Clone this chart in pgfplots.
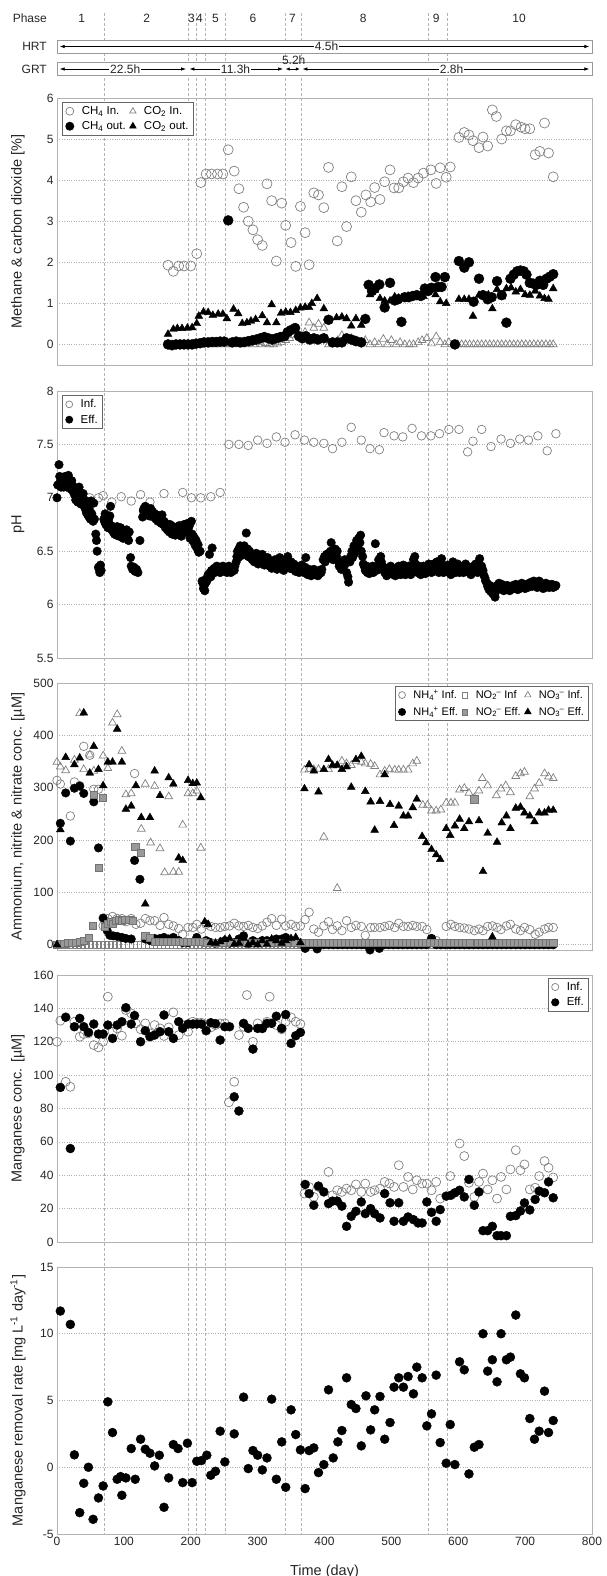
\documentclass[border=0pt]{standalone}
\usepackage{fontspec}
\setmainfont{Liberation Sans}
\usepackage{pgfplots}
\pgfplotsset{compat=1.18}
\usetikzlibrary{arrows.meta}

\newcommand\supsub[2]{\textsubscript{#2}\kern-0.5pt\textsuperscript{#1}}

\tikzset{
  arr/.style={{Latex[length=5pt,width=3.5pt]}-{Latex[length=5pt,width=3.5pt]}, line width=0.7pt},
  hd/.style={font=\fontsize{12}{14}\selectfont, text=black!85},
}

\pgfplotsset{
  panel/.style={
    scale only axis, width=535pt, height=267pt,
    xmin=0, xmax=800, xtick=\empty,
    axis line style={black!30, line width=0.8pt},
    major tick length=0pt,
    ymajorgrids, grid style={dotted, black!30, line width=0.6pt},
    tick label style={font=\fontsize{12}{14}\selectfont, text=black!85},
    /pgf/number format/assume math mode=true,
    ylabel style={font=\fontsize{14.5}{16}\selectfont, text=black!85,
      at={(axis description cs:-0.073,0.5)}, anchor=center},
    legend style={font=\fontsize{11.5}{13}\selectfont, draw=black!60,
      line width=0.9pt, inner xsep=3pt, inner ysep=2pt, fill=white, row sep=1.5pt,
      /tikz/every even column/.append style={column sep=2pt},
      /tikz/every odd column/.append style={column sep=6pt}},
    legend cell align=left,
    legend image post style={scale=0.8},
  },
  oc/.style={only marks, mark=o, mark size=#1, mark options={draw=black!50, line width=0.7pt}},
  oc/.default=4.5pt,
  ot/.style={only marks, mark=triangle, mark size=#1, mark options={draw=black!50, line width=0.7pt}},
  ot/.default=4.8pt,
  os/.style={only marks, mark=square, mark size=#1, mark options={draw=black!50, line width=0.6pt, fill=white}},
  os/.default=3.6pt,
  gs/.style={only marks, mark=square*, mark size=#1, mark options={draw=black!55, fill=black!40, line width=0.6pt}},
  gs/.default=3.6pt,
  fc/.style={only marks, mark=*, mark size=#1, mark options={draw=black, fill=black}},
  fc/.default=4.5pt,
  ft/.style={only marks, mark=triangle*, mark size=#1, mark options={draw=black, fill=black}},
  ft/.default=4.8pt,
}

\begin{document}
\begin{tikzpicture}
\useasboundingbox (0,0) rectangle (606pt,1576pt);

% ---- header and phase lines ----
\begin{axis}[at={(57pt,42pt)}, anchor=south west, scale only axis,
  width=535pt, height=1524pt, xmin=0, xmax=800, ymin=10, ymax=1534,
  y dir=reverse, hide axis, clip=false]
  \pgfplotsinvokeforeach{71,196,208,221,251,341,365,555,583}{
    \draw[densely dashed, black!30, line width=0.5pt] (axis cs:#1,13) -- (axis cs:#1,1534);
  }
  \draw[black!40, fill=white, line width=0.7pt] (axis cs:0,40) rectangle (axis cs:800,53);
  \draw[black!40, fill=white, line width=0.7pt] (axis cs:0,62.5) rectangle (axis cs:800,75.5);
  \node[hd, anchor=east] at (axis cs:-10,18) {Phase};
  \node[hd, anchor=east] at (axis cs:-10,46.5) {HRT};
  \node[hd, anchor=east] at (axis cs:-10,69) {GRT};
  \node[hd] at (axis cs:37,18) {1};
  \node[hd] at (axis cs:134,18) {2};
  \node[hd] at (axis cs:201,18) {3};
  \node[hd] at (axis cs:213,18) {4};
  \node[hd] at (axis cs:237,18) {5};
  \node[hd] at (axis cs:293,18) {6};
  \node[hd] at (axis cs:352,18) {7};
  \node[hd] at (axis cs:458,18) {8};
  \node[hd] at (axis cs:567,18) {9};
  \node[hd] at (axis cs:691,18) {10};
  \draw[arr] (axis cs:4,46.5) -- (axis cs:796,46.5);
  \node[hd, fill=white, inner sep=1pt] at (axis cs:403,46.5) {4.5h};
  \draw[arr] (axis cs:4,69) -- (axis cs:193,69);
  \node[hd, fill=white, inner sep=1pt] at (axis cs:102,69) {22.5h};
  \draw[arr] (axis cs:198,69) -- (axis cs:338,69);
  \node[hd, fill=white, inner sep=1pt] at (axis cs:267,69) {11.3h};
  \draw[{Latex[length=4pt,width=3.5pt]}-{Latex[length=4pt,width=3.5pt]}, line width=0.7pt]
    (axis cs:342,69) -- (axis cs:363,69);
  \node[hd, inner sep=1pt] at (axis cs:354,60) {5.2h};
  \draw[arr] (axis cs:367,69) -- (axis cs:796,69);
  \node[hd, fill=white, inner sep=1pt] at (axis cs:590,69) {2.8h};
\end{axis}

% ---- panel 1: methane and CO2 ----
\begin{axis}[panel, at={(57pt,1211pt)}, anchor=south west,
  ymin=-0.5, ymax=6, ytick={0,1,...,6},
  ylabel={Methane \&  carbon dioxide [\%]},
  legend columns=2,
  legend style={at={(axis description cs:0.01,0.985)}, anchor=north west}]
\addplot[oc=5pt] coordinates {(166,1.93)(174,1.78)(182,1.91)(190,1.91)(200,1.91)(209,2.21)(215,3.94)(223,4.15)(231,4.15)(240,4.15)(248,4.15)(256,4.74)(265,4.22)(272,3.79)(279,3.34)(286,3.00)(293,2.79)(300,2.55)(307,2.41)(314,3.91)(321,3.50)(328,2.03)(336,3.44)(342,2.90)(350,2.48)(357,1.90)(364,3.36)(371,2.72)(377,1.94)(384,3.69)(391,3.64)(399,3.33)(406,4.31)(419,2.52)(426,3.84)(433,2.87)(440,4.08)(447,3.50)(455,3.22)(462,3.64)(469,3.47)(475,3.82)(483,3.53)(490,3.96)(498,4.25)(504,3.81)(511,3.81)(518,3.96)(525,4.05)(533,3.94)(540,4.05)(548,4.17)(559,4.25)(567,3.92)(573,4.30)(582,4.07)(588,4.32)(601,5.04)(609,5.16)(616,5.10)(622,4.96)(631,4.79)(637,5.05)(644,4.83)(651,5.71)(657,5.55)(665,5.00)(672,5.20)(678,5.20)(686,5.35)(694,5.29)(700,5.25)(707,5.25)(715,4.62)(722,4.70)(729,5.39)(735,4.66)(742,4.08)};
\addlegendentry{CH\textsubscript{4} In.}
\addplot[ot=4.5pt] coordinates {(166,0)(172,0)(178,0)(184,0)(190,0)(196,0)(202,0)(209,0)(215,0)(222,0)(228,0)(234,0)(240,0)(246,0)(252,0)(258,0)(264,0.02)(270,0)(276,0)(282,0)(288,0.02)(294,0)(300,0.05)(306,0)(312,0.03)(318,0)(324,0)(330,0.02)(336,0.05)(342,0.1)(348,0.15)(354,0.22)(360,0.25)(366,0.2)(371,0.3)(377,0.53)(384,0.4)(391,0.5)(399,0.4)(406,0)(413,0.05)(420,0.1)(426,0.22)(433,0.1)(440,0.15)(447,0.1)(455,0.05)(461,0.1)(468,0)(475,0.05)(481,0)(488,0.13)(494,0)(500,0.1)(507,0)(513,0.05)(520,0)(527,0)(533,0)(540,0.05)(546,0.1)(553,0.15)(560,0.02)(567,0.19)(573,0.05)(580,0)(586,0.05)(593,0)(599,0)(605,0)(611,0)(617,0)(623,0)(629,0)(635,0)(641,0)(647,0)(653,0)(659,0)(665,0)(671,0)(677,0)(683,0)(689,0)(695,0)(701,0)(707,0)(713,0)(719,0)(725,0)(731,0)(737,0)(742,0)};
\addlegendentry{CO\textsubscript{2} In.}
\addplot[fc=5pt] coordinates {(166,0)(172,-0.02)(178,0)(184,0)(190,0)(196,0)(202,0)(208,0.02)(214,0.03)(220,0.05)(226,0.05)(232,0.06)(238,0.06)(244,0.07)(250,0.07)(256,3.02)(262,0.05)(268,0.07)(274,0.05)(280,0.06)(286,0.08)(292,0.1)(298,0.12)(304,0.15)(310,0.18)(316,0.15)(322,0.12)(328,0.15)(334,0.18)(340,0.2)(345,0.3)(350,0.35)(356,0.4)(362,0.2)(367,0.15)(372,0.2)(378,0.12)(384,0.15)(390,0.12)(399,0.15)(406,0.6)(412,0.05)(419,0.05)(426,0.05)(433,0.15)(440,0.12)(447,0.08)(455,0.05)(461,0.62)(466,1.45)(471,1.3)(475,1.36)(482,1.46)(490,0.9)(498,1.5)(505,1.07)(510,1.1)(515,0.55)(520,1.15)(526,1.15)(532,1.18)(538,1.2)(544,1.18)(550,1.36)(555,1.3)(560,1.38)(566,1.64)(570,1.4)(575,1.4)(580,1.64)(595,0)(601,2.03)(609,1.87)(616,2.0)(623,1.04)(631,1.6)(637,1.2)(644,1.1)(650,1.15)(658,1.54)(665,1.2)(672,0.53)(678,1.6)(683,1.7)(688,1.78)(693,1.8)(698,1.78)(702,1.7)(707,1.5)(712,1.48)(717,1.45)(722,1.55)(727,1.45)(732,1.6)(737,1.65)(742,1.71)};
\addlegendentry{CH\textsubscript{4} out.}
\addplot[ft=4.5pt] coordinates {(166,0.25)(174,0.37)(180,0.39)(187,0.39)(195,0.4)(202,0.41)(209,0.51)(212,0.69)(219,0.79)(226,0.78)(233,0.71)(241,0.74)(248,0.74)(254,0.63)(264,0.86)(271,0.75)(277,0.51)(284,0.53)(290,0.57)(297,0.61)(307,0.7)(314,0.53)(321,0.97)(328,0.53)(335,0.76)(342,0.79)(349,0.78)(357,0.83)(364,0.89)(371,0.91)(377,0.9)(381,1.0)(389,1.12)(399,0.87)(406,0.6)(418,0.65)(426,0.67)(433,0.63)(440,0.45)(447,0.63)(455,0.47)(461,0.63)(468,1.21)(475,1.32)(483,1.12)(490,1.06)(498,1.06)(505,1.16)(511,1.13)(518,1.13)(525,1.18)(533,1.18)(540,1.16)(548,1.17)(557,1.32)(566,1.21)(573,1.04)(582,1.0)(601,1.1)(609,1.1)(616,1.1)(622,0.69)(631,1.2)(637,1.21)(645,1.21)(651,0.87)(658,1.34)(665,1.16)(672,1.36)(679,1.38)(686,1.28)(693,1.34)(700,1.21)(707,1.2)(715,1.3)(722,1.18)(729,1.12)(735,1.1)(742,1.36)};
\addlegendentry{CO\textsubscript{2} out.}
\end{axis}

% ---- panel 2: pH ----
\begin{axis}[panel, at={(57pt,918pt)}, anchor=south west,
  ymin=5.5, ymax=8, ytick={5.5,6,...,8}, ylabel={pH},
  legend style={at={(axis description cs:0.01,0.985)}, anchor=north west}]
\addplot[oc=4.3pt] coordinates {(33,7.01)(49,7.0)(62,7.0)(69,7.02)(82,6.96)(96,7.01)(111,6.97)(125,7.03)(139,6.96)(160,7.04)(188,7.05)(201,7.0)(215,7.0)(230,7.01)(244,7.05)(257,7.50)(272,7.50)(286,7.49)(300,7.54)(314,7.51)(328,7.57)(341,7.52)(356,7.59)(370,7.54)(384,7.52)(399,7.51)(412,7.46)(426,7.52)(440,7.66)(455,7.54)(468,7.46)(482,7.45)(489,7.61)(504,7.58)(517,7.57)(531,7.65)(545,7.58)(559,7.58)(572,7.60)(586,7.64)(601,7.64)(614,7.43)(622,7.53)(635,7.64)(649,7.48)(664,7.55)(678,7.51)(692,7.55)(705,7.54)(719,7.58)(733,7.44)(746,7.60)};
\addlegendentry{Inf.}
\addplot[fc=4.3pt] coordinates {(0,7.00)(1,7.12)(3,7.31)(4,7.2)(5,7.15)(6,7.1)(7,7.18)(8,7.12)(9,7.16)(10,7.1)(11,7.14)(12,7.2)(13,7.12)(14,7.17)(15,7.1)(16,7.14)(17,7.21)(18,7.16)(19,7.1)(20,7.13)(21,7.08)(22,7.16)(23,7.12)(24,7.06)(25,7.1)(26,7.03)(27,7.08)(28,6.98)(29,7.05)(30,7.0)(31,6.96)(32,7.04)(33,7.1)(34,6.97)(35,7.02)(36,6.94)(37,7.0)(38,6.96)(39,7.04)(40,6.95)(41,6.98)(42,6.9)(43,6.97)(44,6.86)(45,6.92)(46,6.84)(47,6.9)(48,6.82)(49,6.88)(50,6.8)(51,6.97)(52,6.85)(53,6.82)(54,6.78)(55,6.95)(56,6.8)(58,6.66)(59,6.6)(60,6.5)(62,6.35)(63,6.33)(64,6.3)(65,6.37)(66,6.32)
(70,6.8)(71,6.78)(72,6.85)(73,6.75)(74,6.82)(75,6.79)(76,6.72)(77,6.8)(78,6.76)(79,6.83)(80,6.92)(81,6.74)(82,6.7)(84,6.68)(85,6.72)(86,6.66)(88,6.7)(89,6.65)(90,6.73)(92,6.68)(93,6.64)(95,6.72)(96,6.66)(98,6.7)(99,6.62)(101,6.67)(102,6.63)(104,6.7)(105,6.65)(107,6.6)(108,6.68)(110,6.44)(111,6.36)(113,6.33)(115,6.35)(117,6.31)(119,6.33)(121,6.3)(124,6.6)
(128,6.82)(129,6.88)(130,6.9)(131,6.85)(132,6.92)(133,6.86)(134,6.9)(135,6.84)(137,6.88)(138,6.83)(140,6.9)(141,6.85)(143,6.87)(144,6.82)(146,6.85)(148,6.8)(149,6.84)(151,6.78)(152,6.82)(154,6.8)(156,6.76)(157,6.84)(159,6.75)(160,6.78)(162,6.72)(163,6.76)(165,6.7)(166,6.74)(168,6.68)(169,6.75)(171,6.7)(172,6.66)(174,6.73)(175,6.69)(177,6.65)(178,6.72)(180,6.7)(181,6.67)(183,6.74)(184,6.68)(186,6.64)(187,6.72)(189,6.7)(190,6.75)(192,6.72)(193,6.68)(195,6.76)(196,6.7)(198,6.74)(199,6.62)(201,6.78)(202,6.66)(203,6.6)(204,6.64)(205,6.58)(206,6.62)(207,6.55)(208,6.6)(210,6.52)(211,6.56)(212,6.49)(214,6.5)
(217,6.22)(218,6.2)(219,6.15)(220,6.18)(221,6.13)(222,6.2)(223,6.24)(224,6.22)(226,6.28)(228,6.47)(229,6.3)(230,6.26)(231,6.32)(232,6.53)(233,6.3)(235,6.34)(236,6.3)(238,6.33)(239,6.36)(241,6.32)(242,6.35)(244,6.3)(245,6.34)(247,6.33)(248,6.36)(250,6.32)(251,6.35)(253,6.33)(254,6.3)(256,6.34)(257,6.36)(259,6.33)(260,6.3)(262,6.35)(263,6.33)(265,6.32)(266,6.36)
(268,6.4)(269,6.45)(270,6.5)(271,6.44)(272,6.52)(273,6.48)(274,6.55)(275,6.5)(276,6.46)(277,6.53)(278,6.5)(279,6.48)(280,6.55)(281,6.5)(283,6.67)(284,6.47)(285,6.52)(286,6.45)(288,6.5)(289,6.44)(291,6.47)(292,6.42)(294,6.45)(295,6.4)(297,6.44)(298,6.48)(300,6.42)(301,6.38)(303,6.45)(304,6.4)(306,6.43)(307,6.47)(309,6.4)(310,6.37)(312,6.42)(313,6.38)(315,6.44)(316,6.4)(318,6.36)
(320,6.4)(321,6.34)(323,6.38)(324,6.35)(326,6.42)(327,6.37)(329,6.33)(330,6.4)(332,6.36)(333,6.44)(335,6.38)(336,6.35)(338,6.4)(339,6.32)(341,6.37)(342,6.42)(344,6.35)(345,6.45)(347,6.38)(348,6.34)(350,6.4)(351,6.36)(353,6.33)(354,6.38)(356,6.35)(357,6.31)(359,6.36)(360,6.33)(362,6.3)(363,6.35)(365,6.32)(366,6.37)(368,6.33)(369,6.3)(371,6.35)(372,6.44)(374,6.32)(375,6.28)(377,6.33)(378,6.3)(380,6.27)(381,6.32)(383,6.29)(384,6.33)(386,6.28)(387,6.31)(389,6.3)(390,6.27)(392,6.32)(393,6.29)(395,6.3)(396,6.33)
(398,6.42)(400,6.45)(401,6.4)(403,6.47)(404,6.43)(406,6.48)(407,6.45)(409,6.5)(410,6.58)(412,6.46)(413,6.42)(415,6.48)(416,6.52)(418,6.45)(419,6.5)(421,6.4)(422,6.36)(424,6.38)(425,6.33)(427,6.4)(428,6.35)(430,6.42)(431,6.38)(433,6.3)(435,6.26)(436,6.21)(438,6.4)(439,6.45)
(441,6.5)(442,6.44)(444,6.55)(445,6.48)(447,6.52)(448,6.6)(450,6.55)(451,6.62)(453,6.58)(454,6.65)(455,6.5)(457,6.45)(458,6.38)(460,6.35)(461,6.32)(463,6.36)(464,6.3)(466,6.33)(467,6.29)(469,6.34)(470,6.31)(472,6.36)(473,6.3)(475,6.33)(476,6.57)(478,6.32)(479,6.36)(481,6.42)(482,6.4)(484,6.45)(485,6.4)(487,6.36)(488,6.33)(490,6.3)(491,6.34)(493,6.27)(494,6.3)(496,6.33)(497,6.29)(499,6.36)
(500,6.3)(502,6.33)(503,6.28)(505,6.32)(506,6.27)(508,6.34)(509,6.3)(511,6.36)(512,6.32)(514,6.28)(515,6.33)(517,6.3)(518,6.37)(520,6.32)(521,6.28)(523,6.34)(524,6.3)(526,6.36)(527,6.33)(529,6.28)(530,6.31)(532,6.35)(533,6.42)(535,6.45)(536,6.38)(538,6.33)(539,6.3)(541,6.36)(542,6.32)(544,6.28)(545,6.34)(547,6.3)(548,6.36)(550,6.33)(551,6.29)(553,6.35)(554,6.31)(556,6.38)(557,6.33)(559,6.36)(560,6.3)(562,6.34)(563,6.38)(565,6.32)(566,6.36)(568,6.4)(569,6.34)(571,6.3)(572,6.37)(574,6.33)(575,6.43)(577,6.36)(578,6.3)(580,6.35)(581,6.32)(583,6.34)(584,6.37)(586,6.3)(587,6.33)(589,6.28)
(590,6.35)(592,6.4)(593,6.32)(595,6.36)(596,6.3)(598,6.34)(599,6.38)(601,6.33)(602,6.3)(604,6.35)(605,6.32)(607,6.36)(608,6.3)(610,6.34)(611,6.38)(613,6.32)(614,6.35)(616,6.3)(617,6.33)(619,6.28)(620,6.35)(622,6.3)(623,6.36)(625,6.32)(626,6.38)(628,6.33)(629,6.3)(631,6.36)(632,6.43)(634,6.33)(635,6.36)(637,6.32)(638,6.28)(640,6.25)(641,6.22)(643,6.2)(644,6.17)(646,6.14)(647,6.18)(649,6.12)(650,6.15)(652,6.1)(653,6.16)(655,6.07)(656,6.12)
(658,6.18)(659,6.15)(661,6.2)(662,6.17)(664,6.15)(665,6.19)(667,6.16)(668,6.13)(670,6.17)(671,6.15)(673,6.18)(674,6.14)(676,6.16)(677,6.13)(679,6.17)(680,6.15)(682,6.18)(683,6.15)(685,6.17)(686,6.19)(688,6.16)(689,6.14)(691,6.18)(692,6.15)(694,6.17)(695,6.2)(697,6.16)(698,6.18)(700,6.15)(701,6.17)(703,6.19)(704,6.16)(706,6.2)(707,6.18)(709,6.21)(710,6.17)(712,6.2)(713,6.22)(715,6.18)(716,6.2)(718,6.16)(719,6.19)(721,6.22)(722,6.18)(724,6.2)(725,6.17)(727,6.15)(728,6.19)(730,6.16)(731,6.2)(733,6.17)(734,6.19)(736,6.16)(737,6.18)(739,6.17)(740,6.19)(742,6.16)(743,6.18)(745,6.17)(746,6.18)};
\addlegendentry{Eff.}
\end{axis}

% ---- panel 3: ammonium, nitrite, nitrate ----
\begin{axis}[panel, at={(57pt,626pt)}, anchor=south west,
  ymin=-10, ymax=500, ytick={0,100,...,500},
  ylabel={Ammonium, nitrite \& nitrate conc. [µM]},
  legend columns=3,
  legend style={at={(axis description cs:0.995,0.99)}, anchor=north east, row sep=3pt,
    font=\fontsize{11}{13}\selectfont}]
\addplot[oc=4.3pt] coordinates {(0,314)(5,307)(20,246)(26,311)(34,304)(40,379)(49,362)(55,297)(62,297)(69,36)(76,50)(83,54)(90,50)(97,50)(103,44)(111,50)(116,327)(118,39)(125,41)(132,50)(139,46)(146,46)(154,37)(160,52)(167,39)(174,36)(182,31)(188,20)(196,33)(203,33)(209,39)(216,30)(223,39)(230,35)(237,33)(244,33)(251,35)(258,36)(265,41)(272,36)(279,35)(286,37)(293,33)(300,31)(307,36)(314,43)(321,50)(328,37)(336,49)(342,36)(350,39)(357,35)(364,36)(371,48)(377,62)(384,30)(391,24)(399,36)(406,44)(412,29)(419,36)(426,27)(433,46)(440,33)(447,37)(455,35)(461,18)(469,33)(475,33)(483,33)(490,35)(497,37)(505,33)(511,41)(518,35)(525,35)(532,37)(538,35)(546,35)(553,29)(560,12)(567,8)(582,35)(589,39)(595,35)(602,33)(609,32)(616,30)(624,27)(631,30)(637,27)(644,35)(651,36)(658,33)(664,29)(672,36)(678,39)(686,30)(693,27)(699,33)(707,29)(715,20)(721,24)(729,30)(735,33)(742,33)};
\addlegendentry{NH\supsub{+}{4} Inf.}
\addplot[os] coordinates {(0,0)(6,0)(12,0)(18,0)(24,0)(30,0)(36,0)(42,0)(48,0)(54,0)(60,0)(66,0)(72,0)(78,0)(84,0)(90,0)(96,0)(102,0)(108,0)(114,0)(120,0)(126,0)(132,0)(138,0)(144,0)(150,0)(156,0)(162,0)(168,0)(174,0)(180,0)(186,0)(192,0)(198,0)(204,0)(210,0)(216,0)(222,0)(228,0)(234,0)(240,0)(246,0)(252,0)(258,0)(264,0)(270,0)(276,0)(282,0)(288,0)(294,0)(300,0)(306,0)(312,0)(318,0)(324,0)(330,0)(336,0)(342,0)(348,0)(354,0)(360,0)(366,0)(372,0)(378,0)(384,0)(390,0)(396,0)(402,0)(408,0)(414,0)(420,0)(426,0)(432,0)(438,0)(444,0)(450,0)(456,0)(462,0)(468,0)(474,0)(480,0)(486,0)(492,0)(498,0)(504,0)(510,0)(516,0)(522,0)(528,0)(534,0)(540,0)(546,0)(552,0)(558,0)(564,0)(570,0)(576,0)(582,0)(588,0)(594,0)(600,0)(606,0)(612,0)(618,0)(624,0)(630,0)(636,0)(642,0)(648,0)(654,0)(660,0)(666,0)(672,0)(678,0)(684,0)(690,0)(696,0)(702,0)(708,0)(714,0)(720,0)(726,0)(732,0)(738,0)};
\addlegendentry{NO\supsub{\textendash}{2} Inf}
\addplot[ot=4.5pt] coordinates {(0,349)(5,340)(13,333)(26,353)(34,442)(40,335)(49,363)(55,332)(69,361)(76,337)(83,424)(90,440)(97,370)(103,287)(111,289)(126,221)(132,307)(140,195)(146,303)(154,184)(161,138)(167,283)(174,139)(182,139)(188,229)(196,289)(203,289)(209,294)(215,185)(370,334)(377,335)(384,335)(391,335)(399,206)(406,335)(412,342)(419,108)(426,351)(433,346)(440,343)(447,351)(455,349)(461,346)(469,345)(475,341)(483,325)(490,332)(497,335)(505,334)(511,334)(518,334)(525,334)(532,346)(538,351)(547,267)(554,267)(560,256)(567,256)(574,258)(582,271)(589,271)(595,271)(602,296)(609,299)(616,290)(624,281)(631,294)(636,318)(644,304)(657,285)(664,298)(671,304)(678,291)(686,322)(693,327)(699,330)(707,283)(714,298)(721,309)(729,327)(735,321)(742,318)};
\addlegendentry{NO\supsub{\textendash}{3} Inf.}
\addplot[fc=4.3pt] coordinates {(5,232)(13,290)(20,198)(26,299)(34,303)(40,289)(55,273)(62,185)(69,51)(75,27)(79,18)(84,17)(90,16)(97,14)(103,12)(111,11)(116,161)(124,125)(132,11)(139,8)(146,12)(154,12)(160,14)(167,11)(174,14)(182,8)(188,4)(196,4)(209,14)(223,8)(230,4)(237,3)(244,4)(251,8)(258,3)(265,4)(272,11)(279,17)(286,3)(293,8)(300,4)(307,8)(314,8)(321,4)(328,11)(336,11)(342,14)(350,4)(357,4)(364,3)(371,-7)(377,0)(384,0)(389,-8)(399,0)(406,0)(413,0)(420,0)(427,0)(434,0)(441,0)(448,0)(455,0)(461,0)(468,-10)(475,0)(482,-7)(489,0)(496,0)(503,0)(510,0)(517,0)(524,0)(531,0)(538,0)(545,0)(552,0)(560,12)(567,0)(574,0)(581,0)(588,0)(595,0)(602,0)(609,0)(616,0)(623,0)(630,0)(637,0)(644,0)(651,0)(658,0)(665,0)(672,0)(679,0)(686,0)(693,0)(700,0)(707,0)(714,0)(721,0)(728,0)(735,0)(742,0)};
\addlegendentry{NH\supsub{+}{4} Eff.}
\addplot[gs] coordinates {(0,0)(5,2)(10,2)(16,3)(22,3)(28,4)(34,5)(40,8)(47,14)(54,36)(55,286)(62,147)(69,281)(72,35)(76,40)(80,44)(84,40)(88,46)(93,48)(97,46)(102,48)(108,47)(113,46)(117,187)(125,176)(132,17)(139,14)(146,5)(152,5)(158,5)(164,5)(170,5)(176,5)(182,5)(188,5)(194,5)(200,5)(206,5)(212,5)(218,5)(224,3)(236,3)(248,3)(260,3)(272,3)(284,3)(296,3)(308,3)(320,3)(332,3)(344,3)(356,3)(365,3)(371,3)(377,3)(383,3)(389,3)(395,3)(401,3)(407,3)(413,3)(419,3)(425,3)(431,3)(437,3)(443,3)(449,3)(455,3)(461,3)(467,3)(473,3)(479,3)(485,3)(491,3)(497,3)(503,3)(509,3)(515,3)(521,3)(527,3)(533,3)(539,3)(545,3)(551,3)(557,3)(563,3)(569,3)(575,3)(581,3)(587,3)(593,3)(599,3)(605,3)(611,3)(617,3)(624,278)(629,3)(635,3)(641,3)(647,3)(653,3)(659,3)(665,3)(671,3)(677,3)(683,3)(689,3)(695,3)(701,3)(707,3)(713,3)(719,3)(725,3)(731,3)(737,3)(742,3)};
\addlegendentry{NO\supsub{\textendash}{2} Eff.}
\addplot[ft=4.5pt] coordinates {(0,0)(5,220)(13,358)(26,344)(34,357)(40,443)(49,328)(55,379)(62,335)(69,304)(76,349)(83,349)(90,412)(97,349)(103,259)(111,265)(118,304)(126,243)(132,78)(139,243)(146,332)(154,285)(167,319)(174,307)(182,166)(188,161)(196,314)(203,308)(209,309)(215,281)(221,44)(226,39)(230,4)(237,3)(244,6)(251,10)(258,12)(265,1)(272,3)(279,12)(286,0)(293,4)(300,0)(307,8)(314,1)(321,11)(328,8)(336,3)(342,8)(350,12)(357,14)(364,4)(370,298)(377,344)(384,332)(391,292)(399,335)(406,354)(412,343)(419,343)(426,335)(433,340)(440,301)(447,354)(455,360)(461,293)(469,273)(475,219)(483,274)(490,325)(498,268)(504,228)(511,265)(518,246)(525,246)(532,262)(538,278)(546,207)(552,195)(560,182)(567,172)(573,163)(582,222)(588,209)(595,227)(602,240)(609,222)(616,235)(631,237)(637,140)(644,213)(651,15)(658,196)(665,233)(672,246)(678,222)(686,261)(693,263)(699,252)(707,246)(714,235)(721,252)(729,252)(735,257)(742,257)};
\addlegendentry{NO\supsub{\textendash}{3} Eff.}
\end{axis}

% ---- panel 4: manganese concentration ----
\begin{axis}[panel, at={(57pt,334pt)}, anchor=south west,
  ymin=0, ymax=160, ytick={0,20,...,160},
  ylabel={Manganese conc. [µM]},
  legend style={at={(axis description cs:0.995,0.99)}, anchor=north east}]
\addplot[oc=4.5pt] coordinates {(0,120)(5,132.6)(13,96)(20,93)(26,132)(34,123)(40,124.6)(47,125)(55,118)(62,116.6)(69,120)(76,147)(83,126)(90,128)(97,123.6)(103,139)(111,137)(118,131)(125,127.5)(132,131)(139,125)(146,130)(154,128)(160,123.5)(167,128.6)(174,137.6)(182,124)(188,130)(196,126)(203,132)(209,131.4)(216,131.4)(223,130)(230,128.6)(237,130)(244,131)(251,131)(257,83.7)(265,96)(272,124)(279,129)(284,148)(293,120)(300,131)(307,128)(314,132)(318,147)(328,130)(336,127.4)(342,132)(350,134.6)(357,132)(364,130.6)(370,29)(377,33)(384,27)(391,33)(406,42)(412,28)(419,31)(426,30)(433,32)(440,31)(447,34.5)(455,30)(461,35)(469,30)(475,31)(483,32)(490,36)(497,35)(504,33)(511,46)(518,33)(525,39)(532,31.5)(538,37)(546,35)(553,35)(560,31)(567,36)(573,26)(588,39.5)(602,59)(609,51.5)(616,35.5)(624,27)(631,36)(637,41)(644,31.5)(651,37)(658,26)(664,39)(672,31.5)(678,43.5)(686,55)(693,43)(699,46.5)(707,31.5)(715,32.5)(721,39.5)(729,48.5)(735,44.5)(742,38.7)};
\addlegendentry{Inf.}
\addplot[fc=4.5pt] coordinates {(5,92.6)(13,134.7)(20,56)(26,129)(34,134)(40,129)(47,125.6)(55,130.6)(62,124.6)(69,124.6)(76,130)(83,122)(90,130)(97,132)(103,140.4)(111,130.6)(116,135.7)(125,120)(132,126.6)(139,123)(146,124)(154,126)(160,136)(167,126)(174,122)(182,132)(188,128)(196,130.6)(203,130.6)(209,130.6)(216,130.6)(223,126.6)(230,131.4)(237,130.8)(244,121)(251,129)(258,129)(265,87)(272,78.5)(279,131)(286,128)(293,115.6)(300,128)(307,128)(314,131)(321,131)(328,135.3)(336,128)(342,136.3)(350,119)(357,123.6)(364,125.6)(371,34.5)(377,29)(384,22)(391,33.5)(399,30)(406,23)(412,24.5)(419,24.5)(426,21.5)(433,9.4)(440,15.4)(447,18.4)(455,24)(461,17)(469,20)(475,17)(483,14.4)(490,29)(498,23.5)(504,12.4)(511,23.5)(518,12.4)(525,15)(533,13.4)(540,11.4)(546,11.4)(553,24)(560,17.8)(567,12.4)(573,19.4)(582,27.5)(589,28)(595,29.5)(602,31)(609,27)(616,37.5)(624,22)(631,30)(637,6.8)(644,6.8)(651,9.4)(658,3.8)(664,3.8)(672,3.8)(678,15.4)(686,15.8)(693,18.6)(699,23.4)(707,19.2)(715,25.5)(721,30.5)(729,29.5)(735,36)(742,26.5)};
\addlegendentry{Eff.}
\end{axis}

% ---- panel 5: manganese removal rate ----
\begin{axis}[panel, at={(57pt,42pt)}, anchor=south west,
  ymin=-5, ymax=15, ytick={-5,0,...,15},
  xtick={0,100,...,800},
  xlabel={Time (day)},
  xlabel style={font=\fontsize{14.5}{16}\selectfont, text=black!85,
    at={(axis description cs:0.5,-0.14)}, anchor=center},
  ylabel={Manganese removal rate [mg L\textsuperscript{-1} day\textsuperscript{-1}]}]
\addplot[fc=4.5pt] coordinates {(5,11.7)(20,10.7)(26,0.93)(34,-3.4)(40,-1.2)(47,0)(54,-3.9)(62,-2.3)(69,-1.4)(76,4.9)(83,2.6)(90,-0.9)(95,-0.7)(97,-2.1)(103,-0.8)(111,1.4)(117,-0.9)(125,2.1)(132,1.35)(139,1.05)(146,0.1)(153,0.9)(160,-3.0)(167,-0.8)(174,1.7)(181,1.4)(188,-1.15)(195,1.8)(202,-1.15)(209,0.45)(216,0.5)(224,0.9)(230,-0.6)(237,-0.3)(244,2.7)(251,0.4)(265,2.5)(279,5.25)(286,-0.1)(293,1.25)(300,0.9)(307,-0.2)(314,0.7)(321,5.1)(328,-0.9)(336,1.9)(342,-1.5)(350,4.3)(357,2.45)(364,1.3)(371,-1.6)(377,1.25)(384,1.45)(391,-0.4)(399,0.2)(406,5.8)(413,0.7)(420,1.9)(426,2.75)(433,6.7)(440,4.7)(447,4.4)(455,1.6)(462,5.35)(469,2.8)(475,4.3)(483,5.3)(490,2.1)(498,3.35)(504,6.0)(511,6.7)(518,6.0)(525,6.8)(533,5.5)(538,7.5)(546,6.7)(553,3.1)(560,4.0)(567,6.9)(573,1.85)(582,0.3)(588,3.2)(595,0.2)(602,7.9)(609,7.3)(616,-0.5)(624,1.5)(631,1.7)(637,10.0)(644,7.2)(651,8.05)(658,6.4)(664,10.0)(672,8.05)(678,8.25)(686,11.4)(693,7.0)(699,6.7)(707,3.65)(714,2.1)(721,2.7)(729,5.7)(735,2.6)(742,3.5)};
\end{axis}
\end{tikzpicture}
\end{document}
